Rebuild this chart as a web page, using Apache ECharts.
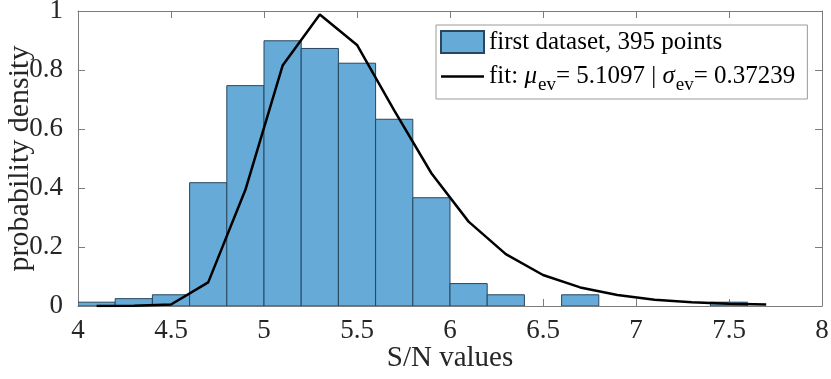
<!DOCTYPE html>
<html>
<head>
<meta charset="utf-8">
<script src="https://cdn.jsdelivr.net/npm/echarts@6/dist/echarts.min.js"></script>
<style>
  html, body { margin: 0; padding: 0; background: #fff; }
  #chart { width: 831px; height: 379px; }
</style>
</head>
<body>
<div id="chart"></div>
<script>
// histogram: left edge of every 0.2-wide bin and its density
var binWidth = 0.2;
var binLeft = [4.0, 4.2, 4.4, 4.6, 4.8, 5.0, 5.2, 5.4, 5.6, 5.8, 6.0, 6.2, 6.4, 6.6, 6.8, 7.0, 7.2, 7.4];
var binDensity = [0.013, 0.025, 0.038, 0.418, 0.747, 0.899, 0.873, 0.823, 0.633, 0.367, 0.076, 0.038, 0, 0.038, 0, 0, 0, 0.013];

// fitted curve, read at the bin centres
var fitX = [4.1, 4.3, 4.5, 4.7, 4.9, 5.1, 5.3, 5.5, 5.7, 5.9, 6.1, 6.3, 6.5, 6.7, 6.9, 7.1, 7.3, 7.5, 7.7];
var fitY = [0.000, 0.001, 0.005, 0.080, 0.394, 0.815, 0.988, 0.885, 0.663, 0.450, 0.286, 0.176, 0.105, 0.063, 0.037, 0.021, 0.013, 0.008, 0.005];

var histName = 'first dataset, 395 points';
var muText = '5.1097';
var sigmaText = '0.37239';
var fitName = 'fit: μev = ' + muText + ' | σev = ' + sigmaText;

var FONT = '"Liberation Serif", "Times New Roman", serif';
var boxColor = '#7c7c7c';
var textColor = '#262626';
var barFill = '#66aad7';
var barEdge = '#28465e';

var myChart = echarts.init(document.getElementById('chart'));

var barData = [];
for (var i = 0; i < binLeft.length; i++) {
    if (binDensity[i] > 0) {
        barData.push([binLeft[i], binLeft[i] + binWidth, binDensity[i]]);
    }
}
var lineData = [];
for (var j = 0; j < fitX.length; j++) {
    lineData.push([fitX[j], fitY[j]]);
}

function renderBar(params, api) {
    var p0 = api.coord([api.value(0), api.value(2)]);
    var p1 = api.coord([api.value(1), 0]);
    return {
        type: 'rect',
        shape: { x: p0[0], y: p0[1], width: p1[0] - p0[0], height: p1[1] - p0[1] },
        style: { fill: barFill, stroke: barEdge, lineWidth: 1 }
    };
}

function axisBase(extra) {
    var o = {
        type: 'value',
        axisLine: { show: true, onZero: false, lineStyle: { color: boxColor, width: 1 } },
        axisTick: { show: true, inside: true, length: 7, lineStyle: { color: boxColor, width: 1 } },
        splitLine: { show: false },
        axisLabel: { show: false }
    };
    for (var k in extra) o[k] = extra[k];
    return o;
}

var option = {
    animation: false,
    backgroundColor: '#fff',
    textStyle: { fontFamily: FONT },
    grid: { left: 78, right: 9, top: 11, bottom: 73, containLabel: false, outerBoundsMode: 'none' },
    xAxis: [
        axisBase({
            position: 'bottom', min: 4, max: 8, interval: 0.5,
            axisLabel: { show: true, margin: 11, fontSize: 27, color: textColor, fontFamily: FONT },
            name: 'S/N values', nameLocation: 'middle', nameGap: 38, nameMoveOverlap: false,
            nameTextStyle: { fontSize: 29, color: textColor, fontFamily: FONT }
        }),
        axisBase({ position: 'top', min: 4, max: 8, interval: 0.5 })
    ],
    yAxis: [
        axisBase({
            position: 'left', min: 0, max: 1, interval: 0.2,
            axisLabel: { show: true, margin: 15, fontSize: 27, color: textColor, fontFamily: FONT },
            name: 'probability density', nameLocation: 'middle', nameGap: 43, nameMoveOverlap: false,
            nameTextStyle: { fontSize: 30, color: textColor, fontFamily: FONT }
        }),
        axisBase({ position: 'right', min: 0, max: 1, interval: 0.2 })
    ],
    legend: {
        orient: 'vertical',
        left: 436,
        top: 25,
        padding: [3, 12, 4, 4],
        itemGap: 2,
        itemWidth: 43,
        itemHeight: 22,
        borderColor: '#9a9a9a',
        borderWidth: 1,
        backgroundColor: '#fff',
        data: [
            { name: histName, icon: 'rect' },
            { name: fitName, icon: 'path://M0,0 L40,0 L40,2.4 L0,2.4 Z' }
        ],
        formatter: function (name) {
            if (name === fitName) {
                return 'fit: {i|μ}{sub|ev}= ' + muText + ' | {i|σ}{sub|ev}= ' + sigmaText;
            }
            return name;
        },
        textStyle: {
            fontFamily: FONT, fontSize: 25, color: '#000', lineHeight: 28,
            rich: {
                i: { fontFamily: FONT, fontSize: 25, fontStyle: 'italic', color: '#000', lineHeight: 28 },
                sub: { fontFamily: FONT, fontSize: 19, color: '#000', lineHeight: 28, padding: [18, 0, 0, 1] }
            }
        }
    },
    series: [
        {
            name: histName,
            type: 'custom',
            renderItem: renderBar,
            itemStyle: { color: barFill, borderColor: barEdge, borderWidth: 1 },
            encode: { x: [0, 1], y: 2 },
            clip: true,
            data: barData,
            z: 2
        },
        {
            name: fitName,
            type: 'line',
            data: lineData,
            symbol: 'none',
            showSymbol: false,
            itemStyle: { color: '#000' },
            lineStyle: { color: '#000', width: 2.5 },
            z: 3
        }
    ]
};

myChart.setOption(option);
</script>
</body>
</html>
